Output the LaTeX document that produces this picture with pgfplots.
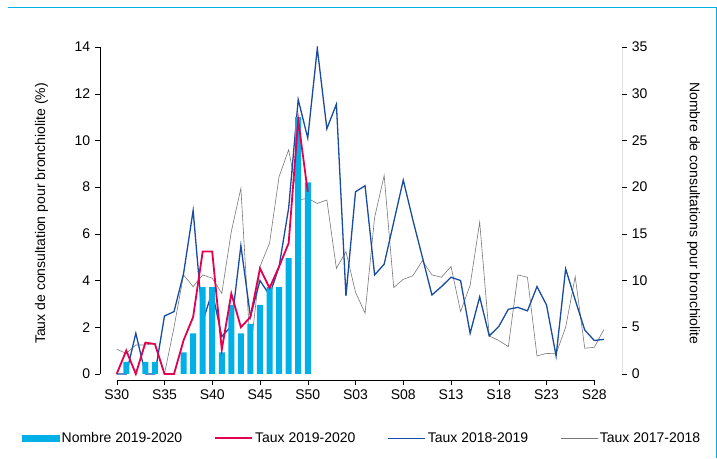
\documentclass[border=0pt]{standalone}
\usepackage{pgfplots}
\pgfplotsset{compat=1.18}
\usepackage{fontspec}
\setmainfont{Liberation Sans}
\definecolor{cbar}{RGB}{0,176,230}
\definecolor{cred}{RGB}{228,0,80}
\definecolor{cblue}{RGB}{25,75,160}
\definecolor{cgray}{RGB}{120,120,120}
\begin{document}
\fontsize{14pt}{16pt}\selectfont
\begin{tikzpicture}
\useasboundingbox (0,0) rectangle (717pt,458pt);
\draw[cbar,line width=1pt] (8pt,450pt)--(716pt,450pt)--(716pt,0pt);
\pgfplotsset{every axis/.style={at={(100pt,78pt)},anchor=south west,scale only axis,width=522pt,height=333pt,xmin=-1.75,xmax=52.9,axis line style={draw=none},tick align=outside,tick style={black,thin},major tick length=5pt,/pgf/number format/assume math mode=true,tick label style={font=\fontsize{14pt}{16pt}\selectfont},label style={font=\fontsize{14pt}{16pt}\selectfont},legend style={font=\fontsize{14pt}{16pt}\selectfont}}}
\begin{axis}[ymin=-0.26,ymax=14,ytick={0,2,...,14},xtick={0,5,...,50},
 xticklabels={S30,S35,S40,S45,S50,S03,S08,S13,S18,S23,S28},
 axis y line*=left, axis x line*=bottom,
 ylabel={Taux de consultation pour bronchiolite (\%)},ylabel style={yshift=17pt}]
\draw[black,thin] (axis cs:0,-0.26)--(axis cs:50,-0.26);
\draw[black,thin] (axis cs:-1.75,0)--(axis cs:-1.75,14);
\addplot[cgray,line width=0.6pt] coordinates {(0,1.06)(1,0.88)(2,1.24)(3,1.24)(4,1.3)(5,0)(6,2.0)(7,4.24)(8,3.74)(9,4.24)(10,4.1)(11,3.45)(12,6.1)(13,7.95)(14,0.95)(15,4.6)(16,5.6)(17,8.45)(18,9.6)(19,7.45)(20,7.52)(21,7.3)(22,7.45)(23,4.52)(24,5.24)(25,3.5)(26,2.6)(27,6.7)(28,8.5)(29,3.7)(30,4.05)(31,4.2)(32,4.85)(33,4.24)(34,4.14)(35,4.6)(36,2.67)(37,3.8)(38,6.5)(39,1.63)(40,1.43)(41,1.17)(42,4.24)(43,4.14)(44,0.77)(45,0.88)(46,0.86)(47,2.0)(48,4.17)(49,1.1)(50,1.14)(51,1.9)};
\addplot[cblue,line width=1.3pt] coordinates {(0,0)(1,0)(2,1.74)(3,0)(4,0)(5,2.48)(6,2.67)(7,4.3)(8,7.0)(9,2.24)(10,3.52)(11,1.6)(12,2.05)(13,5.5)(14,2.45)(15,4.0)(16,3.38)(17,4.6)(18,7.1)(19,11.75)(20,10.1)(21,13.94)(22,10.5)(23,11.55)(24,3.34)(25,7.8)(26,8.06)(27,4.24)(28,4.7)(29,6.5)(30,8.3)(31,6.6)(32,5.0)(33,3.38)(34,3.74)(35,4.14)(36,4.0)(37,1.74)(38,3.3)(39,1.63)(40,2.03)(41,2.77)(42,2.85)(43,2.7)(44,3.74)(45,2.95)(46,0.77)(47,4.5)(48,3.17)(49,1.88)(50,1.43)(51,1.48)};
\end{axis}
\begin{axis}[ymin=-0.65,ymax=35,ytick={0,5,...,35},axis y line*=right,xtick=\empty,
 ylabel={Nombre de consultations pour bronchiolite},ylabel style={rotate=180,yshift=30pt},
 legend columns=4,legend style={draw=none,fill=none,at={(-0.155,-0.175)},anchor=west,/tikz/every even column/.append style={column sep=30pt}},
 legend image code/.code={\draw[#1] (0cm,0cm) -- (1.3cm,0cm);},
 legend cell align=left]
\draw[black,thin] (axis cs:52.9,0)--(axis cs:52.9,35);
\addplot[ybar,bar width=6pt,fill=cbar,draw=none,forget plot] coordinates {(0,0)(1,1.3)(2,0)(3,1.3)(4,1.3)(5,0)(6,0)(7,2.3)(8,4.35)(9,9.3)(10,9.3)(11,2.3)(12,7.4)(13,4.35)(14,5.35)(15,7.4)(16,9.3)(17,9.3)(18,12.4)(19,27.5)(20,20.5)};
\addplot[cred,line width=1.8pt,forget plot] coordinates {(0,0)(1,2.5)(2,0)(3,3.35)(4,3.2)(5,0)(6,0)(7,3.6)(8,6.1)(9,13.1)(10,13.1)(11,2.6)(12,8.6)(13,5.0)(14,6.1)(15,11.3)(16,9.2)(17,11.5)(18,14.0)(19,27.2)(20,19.5)};
\addlegendimage{legend image code/.code={\fill[cbar] (0cm,-0.1cm) rectangle (1.3cm,0.1cm);}}
\addlegendentry{Nombre 2019-2020}
\addlegendimage{cred,line width=1.8pt}
\addlegendentry{Taux 2019-2020}
\addlegendimage{cblue,line width=1.3pt}
\addlegendentry{Taux 2018-2019}
\addlegendimage{cgray,line width=0.6pt}
\addlegendentry{Taux 2017-2018}
\end{axis}
\end{tikzpicture}
\end{document}
